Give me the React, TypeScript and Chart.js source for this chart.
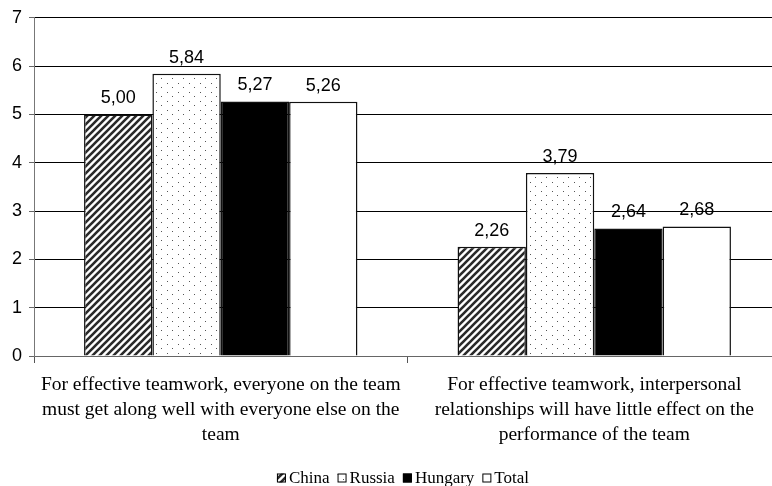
import React, { useEffect, useRef } from "react";
import { Chart, registerables } from "chart.js";

Chart.register(...registerables);

const categories: string[][] = [
  ["For effective teamwork, everyone on the team", "must get along well with everyone else on the", "team"],
  ["For effective teamwork, interpersonal", "relationships will have little effect on the", "performance of the team"],
];
const seriesNames = ["China", "Russia", "Hungary", "Total"];
const china = [5.0, 2.26];
const russia = [5.84, 3.79];
const hungary = [5.27, 2.64];
const total = [5.26, 2.68];
const yTicks = [0, 1, 2, 3, 4, 5, 6, 7];

function stripePattern(): CanvasPattern | string {
  const s = 7;
  const c = document.createElement("canvas");
  c.width = s;
  c.height = s;
  const g = c.getContext("2d");
  if (!g) return "#444";
  g.fillStyle = "#fff";
  g.fillRect(0, 0, s, s);
  g.strokeStyle = "#2a2a2a";
  g.lineWidth = 2.6;
  g.beginPath();
  g.moveTo(0, s);
  g.lineTo(s, 0);
  g.moveTo(-s / 2, s / 2);
  g.lineTo(s / 2, -s / 2);
  g.moveTo(s / 2, s * 1.5);
  g.lineTo(s * 1.5, s / 2);
  g.stroke();
  return g.createPattern(c, "repeat") || "#444";
}

function dotPattern(): CanvasPattern | string {
  const w = 11;
  const h = 9;
  const c = document.createElement("canvas");
  c.width = w;
  c.height = h;
  const g = c.getContext("2d");
  if (!g) return "#eee";
  g.fillStyle = "#fff";
  g.fillRect(0, 0, w, h);
  g.fillStyle = "#555";
  g.fillRect(2, 2, 1, 1);
  g.fillRect(7, 6, 1, 1);
  return g.createPattern(c, "repeat") || "#eee";
}

const fmt = (v: number) => v.toFixed(2).replace(".", ",");

const labelPlugin = {
  id: "valueLabels",
  afterDatasetsDraw(chart: any) {
    const ctx = chart.ctx;
    ctx.save();
    ctx.font = "18px 'Liberation Sans', Arial, sans-serif";
    ctx.fillStyle = "#000";
    ctx.textAlign = "center";
    ctx.textBaseline = "middle";
    chart.data.datasets.forEach((ds: any, i: number) => {
      const meta = chart.getDatasetMeta(i);
      meta.data.forEach((bar: any, j: number) => {
        ctx.fillText(fmt(ds.data[j]), bar.x, bar.y - 16);
      });
    });
    ctx.restore();
  },
};

const legendPlugin = {
  id: "customLegend",
  afterDraw(chart: any) {
    const ctx = chart.ctx;
    ctx.save();
    ctx.font = "17px 'Liberation Serif', 'Times New Roman', serif";
    ctx.textBaseline = "middle";
    ctx.textAlign = "left";
    const box = 9;
    const gap = 3;
    const spacing = 8;
    const items = chart.data.datasets.map((ds: any) => ({
      label: ds.label,
      fill: ds.backgroundColor,
      w: box + gap + ctx.measureText(ds.label).width,
    }));
    const totalW = items.reduce((a: number, it: any) => a + it.w, 0) + spacing * (items.length - 1);
    let x = 403 - totalW / 2;
    const y = 478;
    items.forEach((it: any) => {
      ctx.fillStyle = it.fill;
      ctx.fillRect(x, y - box / 2, box, box);
      ctx.strokeStyle = "#000";
      ctx.lineWidth = 1;
      ctx.strokeRect(x + 0.5, y - box / 2 + 0.5, box - 1, box - 1);
      ctx.fillStyle = "#000";
      ctx.fillText(it.label, x + box + gap, y + 1);
      x += it.w + spacing;
    });
    ctx.restore();
  },
};

export default function App() {
  const ref = useRef<HTMLCanvasElement | null>(null);
  useEffect(() => {
    if (!ref.current) return;
    const fills = [stripePattern(), dotPattern(), "#000", "#fff"];
    const values = [china, russia, hungary, total];
    const chart = new Chart(ref.current, {
      type: "bar",
      data: {
        labels: categories,
        datasets: seriesNames.map((name, i) => ({
          label: name,
          data: values[i],
          backgroundColor: fills[i] as any,
          borderColor: "#111",
          borderWidth: 1.5,
          categoryPercentage: 0.732,
          barPercentage: 1,
        })),
      },
      options: {
        responsive: false,
        animation: false,
        layout: { padding: { top: 13, right: 9, left: 0, bottom: 0 } },
        plugins: { legend: { display: false }, tooltip: { enabled: false } },
        scales: {
          x: {
            afterFit: (s: any) => {
              s.height = 130;
            },
            grid: {
              offset: true,
              drawOnChartArea: false,
              drawTicks: true,
              tickLength: 7,
              color: "#555",
            },
            border: { color: "#666", width: 1 },
            ticks: {
              padding: 9,
              color: "#000",
              font: { family: "'Liberation Serif', 'Times New Roman', serif", size: 19.5, lineHeight: 25 / 19.5 },
              maxRotation: 0,
              autoSkip: false,
            },
          },
          y: {
            min: 0,
            max: 7,
            afterFit: (s: any) => {
              s.width = 34;
            },
            afterBuildTicks: (s: any) => {
              s.ticks = yTicks.map((v) => ({ value: v }));
            },
            grid: {
              color: (c: any) => (c.tick && c.tick.value === 0 ? "#666" : "#000"),
              tickColor: "#666",
              tickLength: 5,
              lineWidth: 1,
            },
            border: { color: "#777", width: 1 },
            ticks: {
              stepSize: 1,
              padding: 7,
              color: "#000",
              font: { family: "'Liberation Sans', Arial, sans-serif", size: 18 },
            },
          },
        },
      },
      plugins: [labelPlugin, legendPlugin],
    });
    return () => chart.destroy();
  }, []);
  return (
    <div style={{ position: "fixed", left: 0, top: 0, width: 772, height: 486, overflow: "hidden", background: "#fff" }}>
      <canvas ref={ref} width={790} height={486} style={{ width: 790, height: 486, display: "block" }} />
    </div>
  );
}
